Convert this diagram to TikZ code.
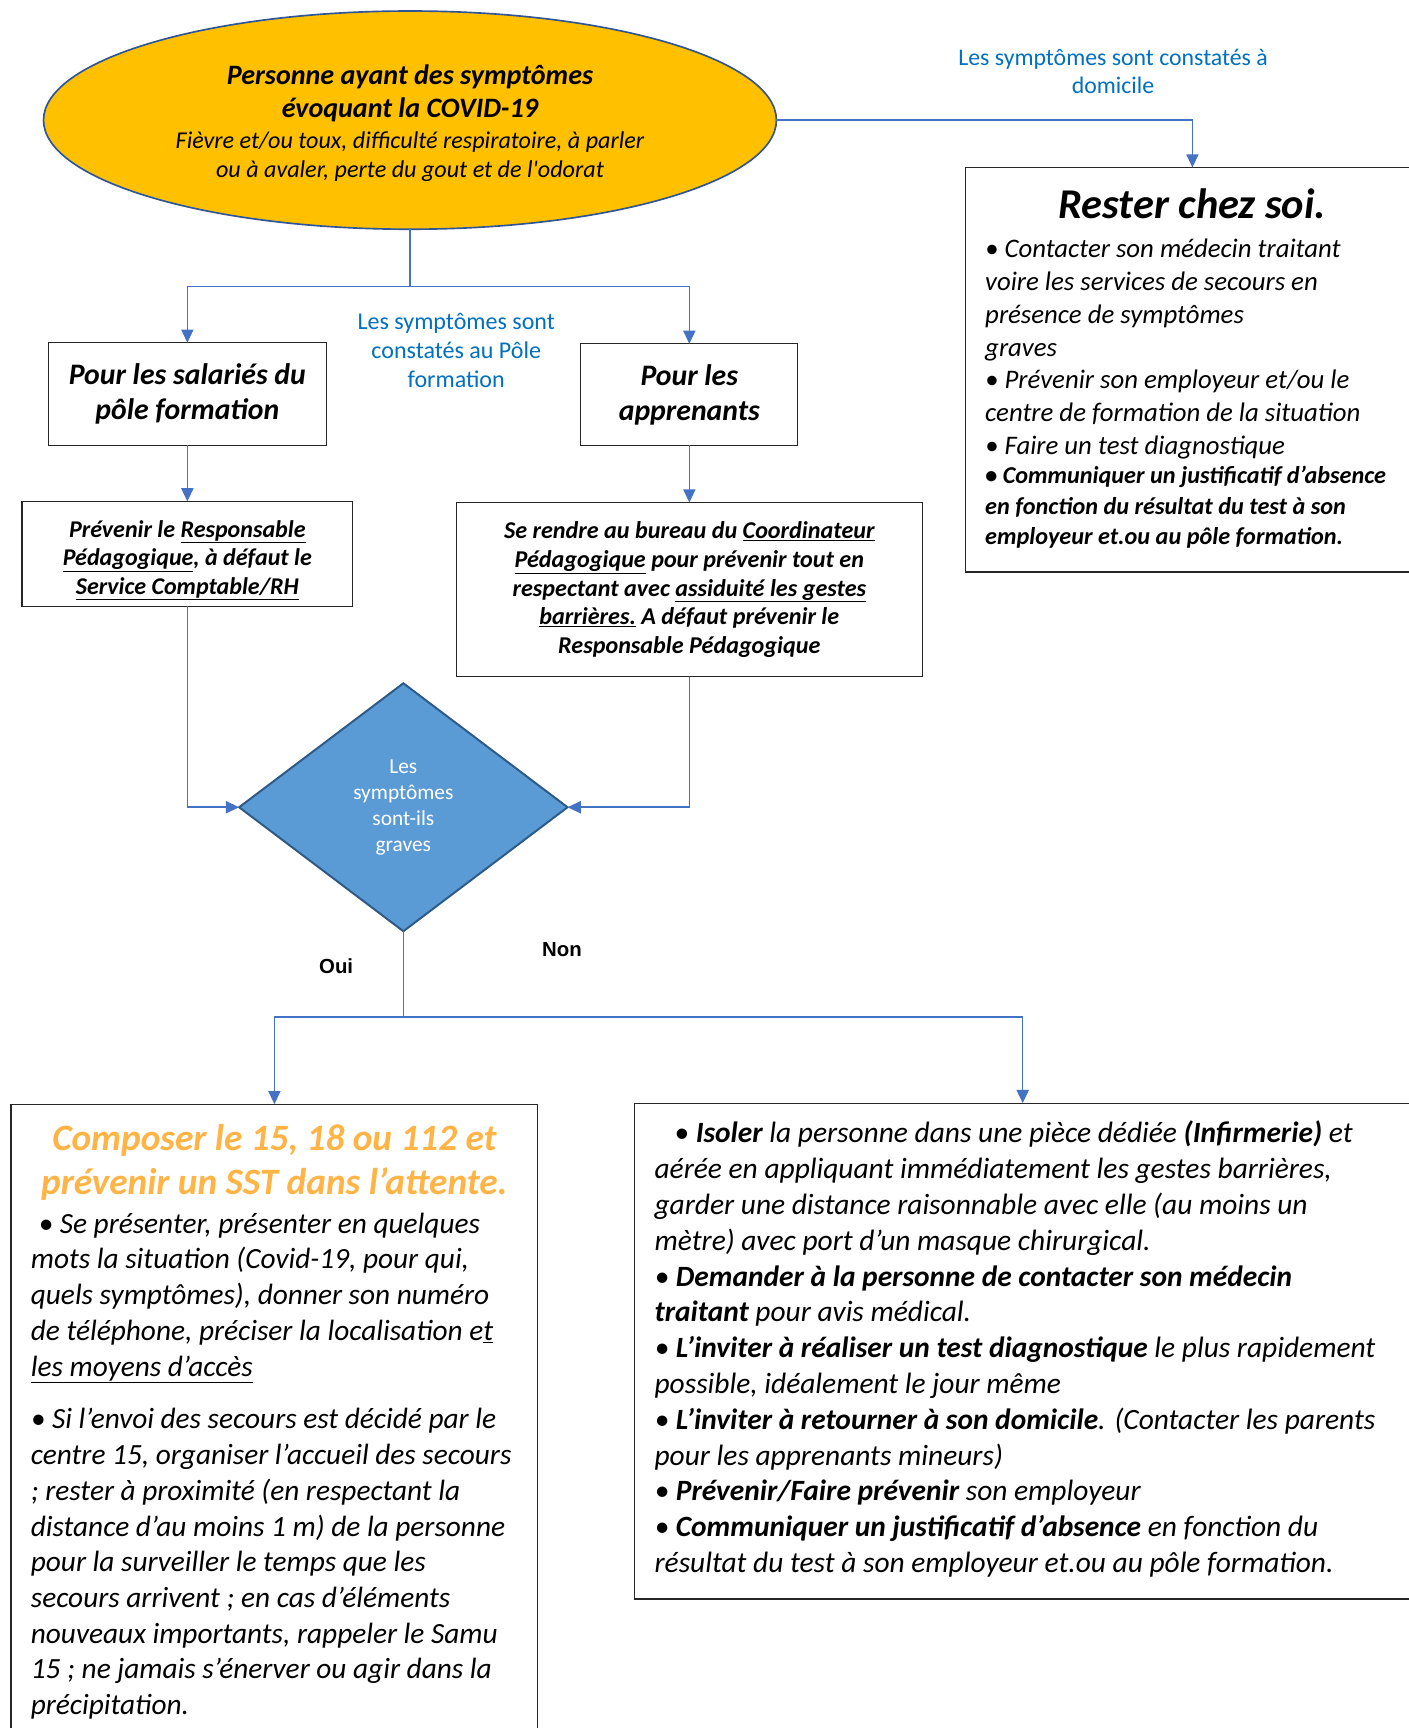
\documentclass[tikz,border=0pt]{standalone}
\usepackage{fontspec}
\setmainfont{Carlito}
\newfontfamily\arialf{Liberation Sans}
\usetikzlibrary{arrows.meta,shapes.geometric}
\definecolor{cblue}{HTML}{4472C4}
\definecolor{gold}{HTML}{FFC000}
\definecolor{edark}{HTML}{2F5597}
\definecolor{dfill}{HTML}{5B9BD5}
\definecolor{dborder}{HTML}{2E5A87}
\definecolor{lblue}{HTML}{0070C0}
\definecolor{orng}{HTML}{FFB445}
\newcommand\sq{{\addfontfeature{Ligatures=TeXOff}'}}
\begin{document}
\begin{tikzpicture}[x=1pt,y=-1pt,
  conn/.style={draw=cblue,line width=1.4pt},
  arr/.style={conn,-{Triangle[length=12pt,width=11pt]}},
  box/.style={draw=black!85,line width=1.1pt,inner sep=0pt,outer sep=0pt},
  txt/.style={inner sep=0pt,outer sep=0pt},
]
\useasboundingbox (0,0) rectangle (1278,1568);
\fill[white] (0,0) rectangle (1278,1568);

% top ellipse
\node[ellipse, draw=edark, line width=1.5pt, fill=gold, minimum width=665, minimum height=198, inner sep=0pt, outer sep=0pt] (ell) at (372,109) {};
\node[txt, anchor=north, align=center, font=\fontsize{25.5}{30}\selectfont\bfseries\itshape] (ellt1) at (372,51.5) {\rule{0pt}{25.5pt}Personne ayant des symptômes\\évoquant la COVID-19};
\node[txt, anchor=north, align=center, font=\fontsize{21.9}{26}\selectfont\itshape] (ellt2) at (372,113.1) {\rule{0pt}{21.9pt}Fièvre et/ou toux, difficulté respiratoire, à parler\\ou à avaler, perte du gout et de l\sq odorat};

% rester chez soi
\node[box, anchor=north west, minimum width=412, minimum height=367] (rest) at (876,152) {};
\node[txt, anchor=north, font=\fontsize{38.5}{44}\selectfont\bfseries\itshape] (restt) at (1082,159.5) {\rule{0pt}{38.5pt}Rester chez soi.};
\node[txt, anchor=north west, align=left, font=\fontsize{24.3}{29.7}\selectfont\itshape] (restb) at (894,209.7) {\rule{0pt}{24.3pt}• Contacter son médecin traitant\\voire les services de secours en\\présence de symptômes\\graves\\• Prévenir son employeur et/ou le\\centre de formation de la situation\\• Faire un test diagnostique};
\node[txt, anchor=north west, align=left, font=\fontsize{22}{27.5}\selectfont\bfseries\itshape] (restc) at (894,417) {\rule{0pt}{22pt}• Communiquer un justificatif d’absence\\en fonction du résultat du test à son\\employeur et.ou au pôle formation.};

% connector labels
\node[txt, anchor=north, align=center, text=lblue, font=\fontsize{21.6}{26}\selectfont] (ldom) at (1010,37.4) {\rule{0pt}{21.6pt}Les symptômes sont constatés à\\domicile};
\node[txt, anchor=north, align=center, text=lblue, font=\fontsize{21.8}{26.5}\selectfont] (lpole) at (414,277.2) {\rule{0pt}{21.8pt}Les symptômes sont\\constatés au Pôle\\formation};

% boxes
\node[box, minimum width=252, minimum height=93, align=center, font=\fontsize{27}{32}\selectfont\bfseries\itshape] (sal) at (170,357.5) {Pour les salariés du\\pôle formation};
\node[box, minimum width=197, minimum height=92, align=center, font=\fontsize{27}{32}\selectfont\bfseries\itshape] (app) at (625.5,358) {Pour les\\apprenants};
\node[box, minimum width=300, minimum height=95, align=center, font=\fontsize{21.8}{26}\selectfont\bfseries\itshape] (prev) at (170,502.5) {\rule{0pt}{27pt}Prévenir le \underline{Responsable}\\\underline{Pédagogique}, à défaut le\\\underline{Service Comptable/RH}};
\node[box, minimum width=423, minimum height=158, align=center, font=\fontsize{21.9}{26.2}\selectfont\bfseries\itshape] (rend) at (625.5,535) {Se rendre au bureau du \underline{Coordinateur}\\\underline{Pédagogique} pour prévenir tout en\\respectant avec \underline{assiduité les gestes}\\\underline{barrières.} A défaut prévenir le\\Responsable Pédagogique};

% decision
\node[diamond, aspect=1.324, draw=dborder, line width=1.8pt, fill=dfill, minimum width=298, minimum height=225, inner sep=0pt, outer sep=0pt, text=white, align=center, font=\fontsize{19.4}{23.7}\selectfont] (dia) at (366,732.5) {Les\\symptômes\\sont-ils\\graves};

\node[font=\arialf\bfseries\fontsize{18.5}{22}\selectfont, inner sep=0pt] (oui) at (305,877) {Oui};
\node[font=\arialf\bfseries\fontsize{18.5}{22}\selectfont, inner sep=0pt] (non) at (510,862) {Non};

% bottom boxes
\node[box, anchor=north west, minimum width=478, minimum height=600] (bl) at (10,1002) {};
\node[box, anchor=north west, minimum width=704, minimum height=450] (br) at (576,1001) {};

\node[txt, anchor=north, align=center, text=orng, font=\fontsize{33.8}{40}\selectfont\bfseries\itshape] (blt) at (249,1010.2) {\rule{0pt}{33.8pt}Composer le 15, 18 ou 112 et\\prévenir un SST dans l’attente.};
\node[txt, anchor=north west, align=left, font=\fontsize{26.6}{32.4}\selectfont\itshape] (blb) at (28,1092.4) {\rule{0pt}{26.6pt}\hspace*{7pt}• Se présenter, présenter en quelques\\mots la situation (Covid-19, pour qui,\\quels symptômes), donner son numéro\\de téléphone, préciser la localisation e\underline{t}\\\underline{les moyens d’accès}\\[15.6pt]• Si l’envoi des secours est décidé par le\\centre 15, organiser l’accueil des secours\\; rester à proximité (en respectant la\\distance d’au moins 1 m) de la personne\\pour la surveiller le temps que les\\secours arrivent ; en cas d’éléments\\nouveaux importants, rappeler le Samu\\15 ; ne jamais s’énerver ou agir dans la\\précipitation.};

\node[txt, anchor=north west, align=left, font=\fontsize{26.7}{32.5}\selectfont\itshape] (brb) at (594,1010.3) {\rule{0pt}{26.7pt}\hspace*{18pt}• \textbf{Isoler} la personne dans une pièce dédiée \textbf{(Infirmerie)} et\\aérée en appliquant immédiatement les gestes barrières,\\garder une distance raisonnable avec elle (au moins un\\mètre) avec port d’un masque chirurgical.\\• \textbf{Demander à la personne de contacter son médecin}\\\textbf{traitant} pour avis médical.\\• \textbf{L’inviter à réaliser un test diagnostique} le plus rapidement\\possible, idéalement le jour même\\• \textbf{L’inviter à retourner à son domicile}. (Contacter les parents\\pour les apprenants mineurs)\\• \textbf{Prévenir/Faire prévenir} son employeur\\• \textbf{Communiquer un justificatif d’absence} en fonction du\\résultat du test à son employeur et.ou au pôle formation.};

% connectors
\coordinate (j1) at (372,260);
\draw[conn] (ell.south) -- (j1);
\draw[arr] (j1) -| (sal.north);
\draw[arr] (j1) -| (app.north);
\draw[arr] (ell.east) -| (rest.north);
\draw[arr] (sal.south) -- (prev.north);
\draw[arr] (app.south) -- (rend.north);
\draw[arr] (prev.south) |- (dia.west);
\draw[arr] (rend.south) |- (dia.east);
\coordinate (j2) at (366,923);
\draw[conn] (dia.south) -- (j2);
\draw[arr] (j2) -| (bl.north);
\draw[arr] (j2) -| (br.north);
\end{tikzpicture}
\end{document}
